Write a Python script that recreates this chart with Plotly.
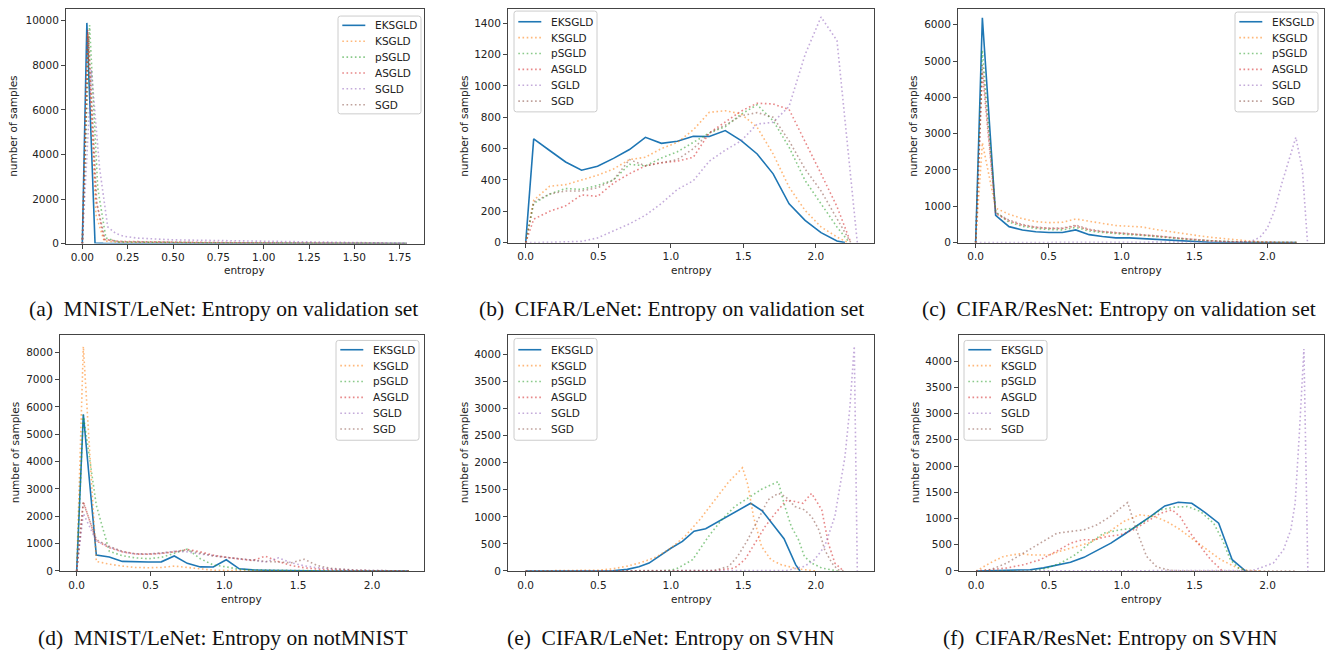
import plotly.graph_objects as go

# Reference canvas is 1333x653. The page body adds an 8px margin, and the photographed
# page comes out slightly squeezed vertically (~0.991), so positions are mapped accordingly.
REF_W, REF_H = 1333, 653
OFF = 8
SY = 0.991
FW = REF_W - 2 * OFF
FH = int(round(REF_H / SY)) - 2 * OFF


def PX(x):
    return (x - OFF) / FW


def PY(y):
    return 1 - (y / SY - OFF) / FH


SERIES = ["EKSGLD", "KSGLD", "pSGLD", "ASGLD", "SGLD", "SGD"]
COLORS = ["#1f77b4", "#ff7f0e", "#2ca02c", "#d62728", "#9467bd", "#8c564b"]

NB = "\u00a0\u00a0"
CAPTIONS = [
    "(a)" + NB + "MNIST/LeNet: Entropy on validation set",
    "(b)" + NB + "CIFAR/LeNet: Entropy on validation set",
    "(c)" + NB + "CIFAR/ResNet: Entropy on validation set",
    "(d)" + NB + "MNIST/LeNet: Entropy on notMNIST",
    "(e)" + NB + "CIFAR/LeNet: Entropy on SVHN",
    "(f)" + NB + "CIFAR/ResNet: Entropy on SVHN",
]

# ---------------- Panel (a) MNIST/LeNet validation ----------------
A_EKSGLD_X = [0, 0.025, 0.07, 0.115, 0.3, 0.6, 1.0, 1.4, 1.79]
A_EKSGLD_Y = [0, 9900, 30, 10, 4, 2, 1, 0, 0]
A_KSGLD_X = [0, 0.03, 0.075, 0.12, 0.2, 0.4, 0.7, 1.0, 1.4, 1.79]
A_KSGLD_Y = [0, 9400, 1300, 120, 60, 40, 30, 20, 10, 5]
A_PSGLD_X = [0, 0.04, 0.085, 0.13, 0.2, 0.4, 0.7, 1.0, 1.4, 1.79]
A_PSGLD_Y = [0, 9800, 2500, 250, 80, 50, 35, 25, 10, 5]
A_ASGLD_X = [0, 0.03, 0.075, 0.12, 0.2, 0.4, 0.7, 1.0, 1.4, 1.79]
A_ASGLD_Y = [0, 9600, 2000, 200, 100, 70, 50, 35, 15, 5]
A_SGLD_X = [0, 0.05, 0.095, 0.14, 0.185, 0.23, 0.3, 0.4, 0.5, 0.65, 0.8, 1.0, 1.2, 1.4, 1.6, 1.79]
A_SGLD_Y = [0, 7800, 3400, 750, 450, 330, 250, 200, 170, 150, 130, 100, 70, 45, 25, 15]
A_SGD_X = [0, 0.035, 0.08, 0.125, 0.2, 0.4, 0.7, 1.0, 1.4, 1.79]
A_SGD_Y = [0, 9300, 1800, 180, 90, 60, 45, 30, 12, 5]

# ---------------- Panel (b) CIFAR/LeNet validation ----------------
B_X = [0, 0.055, 0.165, 0.275, 0.385, 0.495, 0.605, 0.715, 0.825, 0.935, 1.045,
       1.155, 1.265, 1.375, 1.485, 1.595, 1.705, 1.815, 1.925, 2.035, 2.145]
B_EKSGLD = [0, 662, 588, 515, 462, 488, 538, 594, 672, 634, 647, 679, 677, 715, 651, 566, 439, 248, 142, 64, 10]
B_KSGLD = [0, 270, 360, 370, 400, 430, 470, 530, 545, 600, 640, 720, 832, 842, 821, 736, 566, 354, 206, 100, 36]
B_PSGLD = [0, 250, 310, 345, 340, 365, 400, 500, 490, 540, 580, 640, 700, 740, 820, 880, 778, 609, 397, 248, 100]
B_ASGLD = [0, 150, 200, 235, 305, 295, 380, 440, 490, 510, 520, 545, 700, 770, 840, 890, 885, 850, 650, 440, 230]
B_SGLD = [0, 0, 2, 5, 8, 30, 75, 120, 175, 250, 340, 395, 520, 590, 650, 757, 768, 870, 1200, 1440, 1290]
B_SGD = [0, 260, 310, 330, 330, 350, 400, 530, 490, 510, 530, 600, 700, 750, 810, 830, 800, 650, 470, 330, 150]
B_END_X = [2.2, 2.22, 2.23, 2.24, 2.285, 2.24]

# ---------------- Panel (c) CIFAR/ResNet validation ----------------
C_X = [0, 0.046, 0.137, 0.229, 0.32, 0.412, 0.503, 0.595, 0.686, 0.778, 0.869, 0.961, 1.052,
       1.144, 1.235, 1.327, 1.418, 1.51, 1.601, 1.693, 1.784, 1.876, 1.967, 2.059, 2.15]
C_EKSGLD = [0, 6190, 750, 440, 350, 300, 280, 280, 350, 220, 170, 130, 130, 110, 75, 60, 40, 20, 10, 5, 3, 0, 0, 0, 0]
C_KSGLD = [0, 2750, 950, 780, 660, 580, 550, 560, 650, 590, 520, 470, 450, 430, 360, 300, 250, 200, 150, 110, 70, 45, 20, 10, 5]
C_PSGLD = [0, 5300, 850, 560, 450, 390, 360, 350, 420, 320, 280, 240, 220, 200, 160, 130, 100, 70, 50, 30, 20, 10, 5, 0, 0]
C_ASGLD = [0, 4700, 800, 600, 480, 420, 390, 390, 460, 350, 300, 270, 250, 230, 180, 150, 110, 80, 50, 30, 20, 10, 5, 0, 0]
C_SGD = [0, 4900, 820, 620, 500, 430, 400, 400, 480, 370, 310, 280, 260, 240, 190, 150, 110, 80, 50, 30, 20, 10, 5, 0, 0]
C_END_X = 2.2
C_SGLD_X = [0, 1.8, 1.88, 1.95, 2.0, 2.05, 2.1, 2.15, 2.195, 2.24, 2.275]
C_SGLD_Y = [0, 5, 20, 150, 400, 900, 1650, 2300, 2900, 2000, 0]

# ---------------- Panel (d) MNIST/LeNet notMNIST ----------------
D_X = [0, 0.045, 0.133, 0.221, 0.309, 0.397, 0.485, 0.573, 0.661, 0.749, 0.837, 0.925, 1.013,
       1.101, 1.189, 1.277, 1.365, 1.453, 1.541, 1.629, 1.717, 1.805, 1.893, 1.981, 2.069, 2.157, 2.25]
D_EKSGLD = [0, 5730, 580, 510, 350, 335, 328, 335, 550, 280, 150, 145, 410, 80, 40, 30, 20, 10, 5, 0, 0, 0, 0, 0, 0, 0, 0]
D_KSGLD = [0, 8200, 350, 250, 180, 130, 120, 130, 180, 130, 60, 30, 20, 10, 5, 5, 3, 2, 1, 0, 0, 0, 0, 0, 0, 0, 0]
D_PSGLD = [0, 5700, 2400, 720, 560, 480, 450, 500, 650, 800, 450, 220, 150, 60, 40, 30, 20, 10, 5, 3, 2, 1, 0, 0, 0, 0, 0]
D_ASGLD = [0, 2540, 1100, 850, 700, 620, 610, 640, 700, 790, 700, 580, 500, 450, 380, 540, 350, 200, 120, 70, 40, 25, 15, 10, 5, 3, 0]
D_SGLD = [0, 2100, 1100, 880, 700, 620, 620, 650, 720, 700, 620, 560, 480, 440, 400, 330, 480, 300, 190, 120, 80, 50, 30, 20, 10, 5, 0]
D_SGD = [0, 2500, 1150, 900, 720, 630, 620, 650, 700, 760, 650, 550, 500, 450, 400, 350, 330, 300, 430, 200, 100, 60, 30, 20, 10, 5, 0]

# ---------------- Panel (e) CIFAR/LeNet SVHN ----------------
E_EKSGLD_X = [0, 0.3, 0.6, 0.7, 0.78, 0.85, 0.93, 1.0, 1.08, 1.16, 1.24, 1.32, 1.4, 1.47, 1.55, 1.63, 1.7, 1.78, 1.86, 1.89]
E_EKSGLD_Y = [0, 0, 5, 30, 80, 147, 290, 420, 546, 736, 779, 900, 1020, 1130, 1251, 1110, 880, 595, 117, 0]
E_KSGLD_X = [0, 0.2, 0.4, 0.5, 0.6, 0.7, 0.8, 0.9, 1.0, 1.1, 1.2, 1.3, 1.4, 1.494, 1.53, 1.57, 1.625, 1.69, 1.76, 1.88, 2.0]
E_KSGLD_Y = [0, 2, 8, 15, 40, 90, 160, 260, 420, 650, 950, 1300, 1650, 1908, 1600, 1000, 454, 208, 117, 37, 0]
E_PSGLD_X = [0, 0.9, 1.0, 1.05, 1.15, 1.26, 1.35, 1.44, 1.53, 1.625, 1.69, 1.74, 1.786, 1.83, 1.88, 1.92, 1.97, 2.04, 2.15]
E_PSGLD_Y = [0, 0, 15, 55, 209, 638, 945, 1190, 1343, 1509, 1589, 1650, 1190, 822, 577, 270, 147, 55, 0]
E_ASGLD_X = [0, 1.3, 1.44, 1.51, 1.58, 1.65, 1.72, 1.8, 1.855, 1.91, 1.97, 2.04, 2.085, 2.13, 2.19]
E_ASGLD_Y = [0, 5, 55, 209, 515, 822, 1067, 1313, 1282, 1250, 1435, 1129, 515, 147, 0]
E_SGLD_X = [0, 1.8, 1.92, 1.99, 2.06, 2.13, 2.2, 2.234, 2.264, 2.285]
E_SGLD_Y = [0, 10, 86, 209, 454, 1006, 2110, 3030, 4150, 0]
E_SGD_X = [0, 1.3, 1.4, 1.46, 1.53, 1.6, 1.67, 1.74, 1.79, 1.855, 1.92, 1.97, 2.02, 2.06, 2.11, 2.15, 2.2]
E_SGD_Y = [0, 10, 86, 270, 577, 945, 1313, 1435, 1374, 1190, 1129, 1006, 760, 393, 147, 25, 0]

# ---------------- Panel (f) CIFAR/ResNet SVHN ----------------
F_EKSGLD_X = [0, 0.0925, 0.185, 0.2775, 0.37, 0.4625, 0.555, 0.6475, 0.74, 0.8325, 0.925,
              1.0175, 1.11, 1.2025, 1.295, 1.3875, 1.48, 1.5725, 1.665, 1.7575, 1.85]
F_EKSGLD_Y = [0, 5, 10, 15, 25, 60, 110, 165, 260, 390, 530, 700, 870, 1050, 1240, 1310, 1291, 1114, 911, 215, 0]
F_KSGLD_X = [0, 0.1, 0.19, 0.3, 0.39, 0.5, 0.58, 0.69, 0.78, 0.9, 1.01, 1.12, 1.22, 1.31, 1.4, 1.49, 1.585, 1.68, 1.77, 1.86, 1.95]
F_KSGLD_Y = [0, 160, 280, 329, 304, 304, 380, 470, 540, 720, 940, 1070, 1040, 940, 790, 600, 400, 215, 89, 13, 0]
F_PSGLD_X = [0, 0.4, 0.49, 0.58, 0.68, 0.78, 0.875, 0.99, 1.08, 1.17, 1.265, 1.356, 1.45, 1.54, 1.63, 1.69, 1.745, 1.8, 1.86]
F_PSGLD_Y = [0, 5, 57, 152, 310, 532, 721, 785, 816, 975, 1165, 1215, 1228, 1133, 911, 595, 215, 57, 0]
F_ASGLD_X = [0, 0.1, 0.21, 0.325, 0.44, 0.55, 0.65, 0.73, 0.81, 0.9, 0.99, 1.08, 1.17, 1.265, 1.345, 1.4, 1.47, 1.54, 1.61, 1.67, 1.69]
F_ASGLD_Y = [0, 25, 57, 120, 215, 373, 532, 595, 595, 658, 690, 785, 943, 1101, 1165, 1038, 721, 468, 215, 57, 0]
F_SGLD_X = [0, 1.9, 2.04, 2.11, 2.16, 2.19, 2.22, 2.25, 2.277]
F_SGLD_Y = [0, 10, 150, 405, 785, 1290, 2680, 4230, 0]
F_SGD_X = [0, 0.1, 0.21, 0.325, 0.44, 0.555, 0.646, 0.74, 0.83, 0.92, 0.99, 1.04, 1.1, 1.17, 1.24, 1.33, 1.45, 2.2]
F_SGD_Y = [0, 25, 152, 342, 532, 721, 753, 785, 880, 1038, 1196, 1304, 785, 278, 76, 13, 0, 0]


def grid_series(xg, ys, end_x):
    return (list(xg) + [end_x], list(ys) + [0])


panel_data = [
    [(A_EKSGLD_X, A_EKSGLD_Y), (A_KSGLD_X, A_KSGLD_Y), (A_PSGLD_X, A_PSGLD_Y),
     (A_ASGLD_X, A_ASGLD_Y), (A_SGLD_X, A_SGLD_Y), (A_SGD_X, A_SGD_Y)],
    [grid_series(B_X, y, e) for y, e in zip([B_EKSGLD, B_KSGLD, B_PSGLD, B_ASGLD, B_SGLD, B_SGD], B_END_X)],
    [grid_series(C_X, C_EKSGLD, C_END_X), grid_series(C_X, C_KSGLD, C_END_X),
     grid_series(C_X, C_PSGLD, C_END_X), grid_series(C_X, C_ASGLD, C_END_X),
     (C_SGLD_X, C_SGLD_Y), grid_series(C_X, C_SGD, C_END_X)],
    [(D_X, D_EKSGLD), (D_X, D_KSGLD), (D_X, D_PSGLD), (D_X, D_ASGLD), (D_X, D_SGLD), (D_X, D_SGD)],
    [(E_EKSGLD_X, E_EKSGLD_Y), (E_KSGLD_X, E_KSGLD_Y), (E_PSGLD_X, E_PSGLD_Y),
     (E_ASGLD_X, E_ASGLD_Y), (E_SGLD_X, E_SGLD_Y), (E_SGD_X, E_SGD_Y)],
    [(F_EKSGLD_X, F_EKSGLD_Y), (F_KSGLD_X, F_KSGLD_Y), (F_PSGLD_X, F_PSGLD_Y),
     (F_ASGLD_X, F_ASGLD_Y), (F_SGLD_X, F_SGLD_Y), (F_SGD_X, F_SGD_Y)],
]

# layout geometry in reference pixels: left, right, top, bottom of each plot area
BOXES = [(66, 424, 8, 243), (508, 874, 5, 242), (958, 1324, 5, 242),
         (60, 424, 335, 571), (508, 874, 335, 571), (959, 1324, 335, 571)]
XRANGES = [(-0.09, 1.884), (-0.122, 2.4), (-0.121, 2.388),
           (-0.113, 2.352), (-0.122, 2.4), (-0.118, 2.388)]
YRANGES = [10520, 1510, 6513, 8608, 4350, 4488]
YDTICK = [2000, 200, 1000, 1000, 500, 500]
XDTICK = [0.25, 0.5, 0.5, 0.5, 0.5, 0.5]
XFMT = [".2f", ".1f", ".1f", ".1f", ".1f", ".1f"]
# legend box: left, top, bottom, first row centre
LEGENDS = [(338, 15, 113, 24.3), (514, 10, 111, 20.7), (1235, 11, 111, 20.7),
           (336, 340, 440, 349.3), (514, 338, 440, 349.3), (964, 340, 440, 349.3)]
LEG_W, LEG_STEP = 83, 15.9
YLABEL_X = [13, 464, 913, 15, 464, 915]
CAPTION_POS = [(223, 309), (671, 309), (1119, 309), (223, 638), (671, 638), (1110, 638)]

FONT = "DejaVu Sans"
TXT = "#222"
DOT = "1.6px,2.6px"
TOP_MIN = OFF * SY + 0.5  # highest reference pixel reachable inside the page margin

fig = go.Figure()
layout = dict(width=FW, height=FH, autosize=False, margin=dict(l=0, r=0, t=0, b=0),
              paper_bgcolor="white", plot_bgcolor="white", showlegend=False)
annotations = []
shapes = []

for p in range(6):
    l, r, t, b = BOXES[p]
    ymax = YRANGES[p]
    if t < TOP_MIN:  # keep the data scale, trim the very top of the frame
        ymax = ymax * (b - TOP_MIN) / (b - t)
        t = TOP_MIN
    sfx = "" if p == 0 else str(p + 1)
    for s, (name, col) in enumerate(zip(SERIES, COLORS)):
        xs, ys = panel_data[p][s]
        solid = s == 0
        fig.add_trace(go.Scatter(
            x=xs, y=ys, mode="lines", name=name,
            xaxis="x" + sfx, yaxis="y" + sfx,
            opacity=1.0 if solid else 0.55,
            line=dict(color=col, width=1.6, dash="solid" if solid else DOT),
            hoverinfo="skip", showlegend=False,
        ))
    axis_common = dict(showline=True, mirror=True, linecolor="#444", linewidth=1,
                       ticks="outside", ticklen=4, tickcolor="#444", tickwidth=1,
                       showgrid=False, zeroline=False,
                       tickfont=dict(family=FONT, size=10.5, color=TXT))
    layout["xaxis" + sfx] = dict(axis_common, domain=[PX(l), PX(r)], range=list(XRANGES[p]),
                                 anchor="y" + sfx, tick0=0, dtick=XDTICK[p], tickformat=XFMT[p])
    layout["yaxis" + sfx] = dict(axis_common, domain=[PY(b), min(1.0, PY(t))], range=[0, ymax],
                                 anchor="x" + sfx, tick0=0, dtick=YDTICK[p], tickformat="d")

    # legend drawn as box + samples + labels
    bl, bt, bb, r1 = LEGENDS[p]
    bt = max(bt, TOP_MIN + 1)
    br = bl + LEG_W
    rad = 2.5
    path = (f"M {PX(bl + rad)} {PY(bt)} L {PX(br - rad)} {PY(bt)} Q {PX(br)} {PY(bt)} {PX(br)} {PY(bt + rad)} "
            f"L {PX(br)} {PY(bb - rad)} Q {PX(br)} {PY(bb)} {PX(br - rad)} {PY(bb)} "
            f"L {PX(bl + rad)} {PY(bb)} Q {PX(bl)} {PY(bb)} {PX(bl)} {PY(bb - rad)} "
            f"L {PX(bl)} {PY(bt + rad)} Q {PX(bl)} {PY(bt)} {PX(bl + rad)} {PY(bt)} Z")
    shapes.append(dict(type="path", path=path, xref="paper", yref="paper",
                       fillcolor="rgba(255,255,255,0.8)", line=dict(color="#cccccc", width=1),
                       layer="above"))
    for s, (name, col) in enumerate(zip(SERIES, COLORS)):
        ry = r1 + LEG_STEP * s
        shapes.append(dict(type="line", xref="paper", yref="paper",
                           x0=PX(bl + 4.3), x1=PX(bl + 27.3), y0=PY(ry), y1=PY(ry),
                           opacity=1.0 if s == 0 else 0.55,
                           line=dict(color=col, width=1.6, dash="solid" if s == 0 else DOT),
                           layer="above"))
        annotations.append(dict(text=name, x=PX(bl + 34.6), y=PY(ry), xref="paper", yref="paper",
                                xanchor="left", yanchor="middle", showarrow=False,
                                font=dict(family=FONT, size=10.5, color=TXT)))

    # axis titles
    row_top = p < 3
    annotations.append(dict(text="entropy", x=PX((l + r) / 2), y=PY(269 if row_top else 599),
                            xref="paper", yref="paper", showarrow=False,
                            xanchor="center", yanchor="middle",
                            font=dict(family=FONT, size=10.5, color=TXT)))
    annotations.append(dict(text="number of samples", x=PX(YLABEL_X[p]),
                            y=PY(126 if row_top else 453),
                            xref="paper", yref="paper", showarrow=False, textangle=-90,
                            xanchor="center", yanchor="middle",
                            font=dict(family=FONT, size=10.5, color=TXT)))
    cx, cy = CAPTION_POS[p]
    annotations.append(dict(text=CAPTIONS[p], x=PX(cx), y=PY(cy), xref="paper", yref="paper",
                            showarrow=False, xanchor="center", yanchor="middle",
                            font=dict(family="Liberation Serif", size=21.5, color="#111")))

layout["annotations"] = annotations
layout["shapes"] = shapes
fig.update_layout(**layout)
fig.write_html("out.html")
